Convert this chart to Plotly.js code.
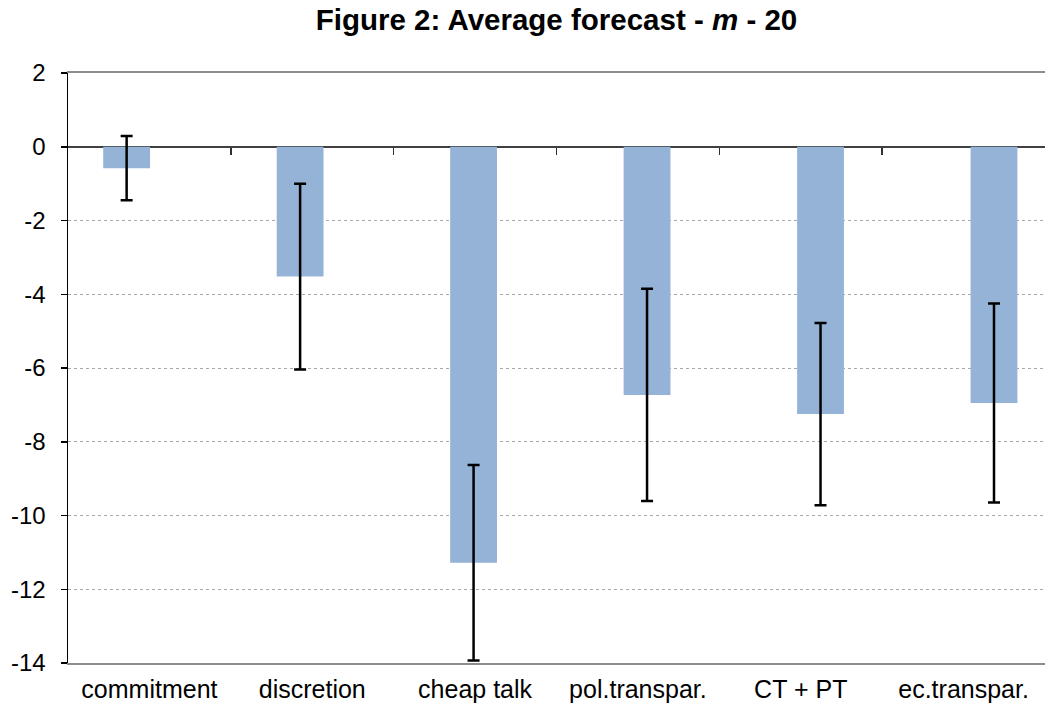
<!DOCTYPE html>
<html>
<head>
<meta charset="utf-8">
<script src="https://cdn.plot.ly/plotly-3.0.1.min.js"></script>
<style>html,body{margin:0;padding:0;background:#fff;}#chart{width:1045px;height:708px;}</style>
</head>
<body>
<div id="chart"></div>
<script>
const categories = ["commitment", "discretion", "cheap talk", "pol.transpar.", "CT + PT", "ec.transpar."];
const averages = [-0.58, -3.52, -11.28, -6.73, -7.25, -6.95];
const errors = [0.87, 2.52, 2.65, 2.88, 2.47, 2.70];
const yTicks = [2, 0, -2, -4, -6, -8, -10, -12, -14];

const idx = categories.map((_, i) => i);
const FONT = "Arial, 'Liberation Sans', sans-serif";

const barTrace = {
  type: "bar",
  x: idx,
  y: averages,
  width: 0.27,
  marker: {color: "#95b3d7", line: {width: 0}},
  error_y: {type: "data", array: errors, visible: true, color: "#000000", thickness: 2.5, width: 6},
  hoverinfo: "skip",
  showlegend: false
};
// empty traces so that the label axis and the zero-line tick axis are drawn
const labelAxisTrace = {type: "scatter", x: [], y: [], xaxis: "x2", yaxis: "y", showlegend: false, hoverinfo: "skip"};
const tickAxisTrace = {type: "scatter", x: [], y: [], xaxis: "x3", yaxis: "y", showlegend: false, hoverinfo: "skip"};

const layout = {
  width: 1045,
  height: 708,
  margin: {l: 68, r: 0, t: 73, b: 45},
  paper_bgcolor: "#ffffff",
  plot_bgcolor: "#ffffff",
  font: {family: FONT, color: "#000000"},
  title: {
    text: "<b>Figure 2: Average forecast - <i>m</i> - 20</b>",
    font: {family: FONT, size: 29.5, color: "#000000"},
    x: 0.5, xref: "paper", xanchor: "center",
    y: 0.972, yref: "container", yanchor: "middle"
  },
  xaxis: {
    type: "linear",
    range: [-0.338, 5.294],
    showticklabels: false,
    ticks: "",
    showgrid: false,
    zeroline: false,
    showline: true,
    mirror: true,
    linecolor: "#8c8c8c",
    linewidth: 2,
    fixedrange: true
  },
  xaxis2: {
    overlaying: "x",
    anchor: "y",
    side: "bottom",
    range: [0, categories.length],
    tickmode: "array",
    tickvals: idx.map(i => i + 0.5),
    ticktext: categories,
    ticks: "",
    ticklabelstandoff: 9,
    tickfont: {family: FONT, size: 25, color: "#000000"},
    showgrid: false,
    zeroline: false,
    showline: false,
    fixedrange: true
  },
  xaxis3: {
    overlaying: "x",
    anchor: "free",
    position: 0.875,
    side: "bottom",
    range: [0, categories.length],
    tickmode: "array",
    tickvals: idx.slice(1),
    ticks: "outside",
    ticklen: 7,
    tickwidth: 1.5,
    tickcolor: "#303030",
    showticklabels: false,
    showgrid: false,
    zeroline: false,
    showline: false,
    fixedrange: true
  },
  yaxis: {
    range: [-14, 2],
    tickmode: "array",
    tickvals: yTicks,
    ticktext: yTicks.map(String),
    tickfont: {family: FONT, size: 24, color: "#000000"},
    ticks: "outside",
    ticklen: 6,
    tickwidth: 1.5,
    tickcolor: "#000000",
    ticklabelstandoff: 10,
    showline: true,
    linecolor: "#000000",
    linewidth: 1.5,
    showgrid: true,
    gridcolor: "#a8a8a8",
    gridwidth: 1,
    griddash: "dot",
    zeroline: true,
    zerolinecolor: "#404040",
    zerolinewidth: 1.5,
    fixedrange: true
  }
};

Plotly.newPlot("chart", [barTrace, labelAxisTrace, tickAxisTrace], layout, {displayModeBar: false, staticPlot: true});
</script>
</body>
</html>
